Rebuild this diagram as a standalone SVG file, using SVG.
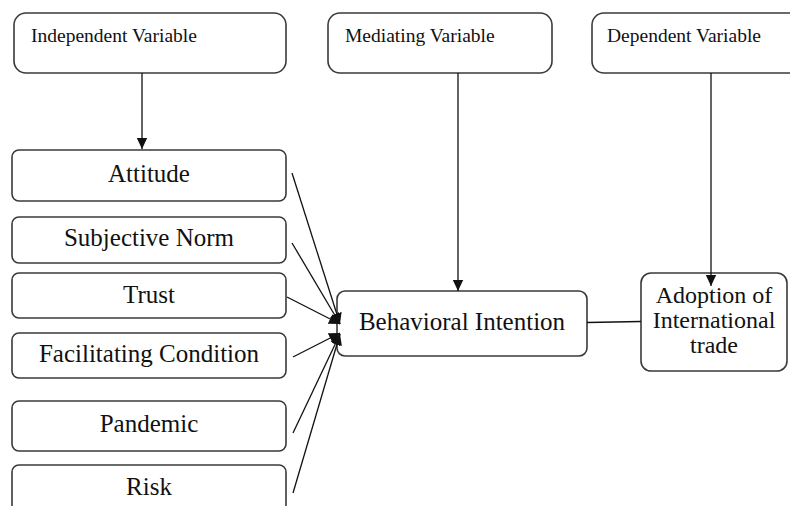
<svg xmlns="http://www.w3.org/2000/svg" width="790" height="506" viewBox="0 0 790 506">
  <style>
    .box { fill: #ffffff; stroke: #3a3a3a; stroke-width: 1.6; }
    .hdr { font-family: 'Liberation Serif', 'DejaVu Serif', 'Noto Serif', serif; font-size: 19.5px; fill: #111; }
    .lbl { font-family: 'Liberation Serif', 'DejaVu Serif', 'Noto Serif', serif; font-size: 25px; fill: #111; text-anchor: middle; }
    .ln { stroke: #111; stroke-width: 1.3; fill: none; }
  </style>
  <defs>
    <marker id="arrow" markerUnits="userSpaceOnUse" markerWidth="12" markerHeight="12" viewBox="0 0 12 12" refX="11" refY="6" orient="auto">
      <path d="M0,0.8 L11,6 L0,11.2 Z" fill="#111"/>
    </marker>
  </defs>
  <rect width="790" height="506" fill="#ffffff"/>

  <!-- header boxes -->
  <g id="independent-variable">
    <rect class="box" x="14" y="13" width="272" height="60" rx="12"/>
    <text class="hdr" x="31" y="42">Independent Variable</text>
  </g>
  <g id="mediating-variable">
    <rect class="box" x="328" y="13" width="224" height="60" rx="12"/>
    <text class="hdr" x="345" y="42">Mediating Variable</text>
  </g>
  <g id="dependent-variable">
    <rect class="box" x="592" y="13" width="220" height="60" rx="12"/>
    <text class="hdr" x="607" y="42">Dependent Variable</text>
  </g>

  <!-- factor boxes -->
  <g id="attitude">
    <rect class="box" x="12" y="150" width="274" height="51" rx="7"/>
    <text class="lbl" x="149" y="182">Attitude</text>
  </g>
  <g id="subjective-norm">
    <rect class="box" x="12" y="217" width="274" height="46" rx="7"/>
    <text class="lbl" x="149" y="246">Subjective Norm</text>
  </g>
  <g id="trust">
    <rect class="box" x="12" y="273" width="274" height="45" rx="7"/>
    <text class="lbl" x="149" y="303">Trust</text>
  </g>
  <g id="facilitating-condition">
    <rect class="box" x="12" y="333" width="274" height="45" rx="7"/>
    <text class="lbl" x="149" y="362">Facilitating Condition</text>
  </g>
  <g id="pandemic">
    <rect class="box" x="12" y="401" width="274" height="50" rx="7"/>
    <text class="lbl" x="149" y="432">Pandemic</text>
  </g>
  <g id="risk">
    <rect class="box" x="12" y="465" width="274" height="60" rx="7"/>
    <text class="lbl" x="149" y="495">Risk</text>
  </g>

  <!-- mediator and outcome -->
  <g id="behavioral-intention">
    <rect class="box" x="337" y="291" width="250" height="65" rx="8"/>
    <text class="lbl" x="462" y="330">Behavioral Intention</text>
  </g>
  <g id="adoption">
    <rect class="box" x="641" y="273" width="146" height="98" rx="10"/>
    <text class="lbl" x="714" y="303" style="font-size:24px">Adoption of</text>
    <text class="lbl" x="714" y="328" style="font-size:24px">International</text>
    <text class="lbl" x="714" y="353" style="font-size:24px">trade</text>
  </g>

  <!-- connectors -->
  <g id="connectors">
    <line class="ln" x1="142" y1="73" x2="142" y2="149" marker-end="url(#arrow)"/>
    <line class="ln" x1="458" y1="73" x2="458" y2="291" marker-end="url(#arrow)"/>
    <line class="ln" x1="711" y1="73" x2="711" y2="286" marker-end="url(#arrow)"/>
    <line class="ln" x1="587" y1="322.5" x2="641" y2="321.5" stroke-width="1.6"/>

    <line class="ln" x1="292" y1="173" x2="340" y2="324" marker-end="url(#arrow)"/>
    <line class="ln" x1="292" y1="243" x2="340" y2="324" marker-end="url(#arrow)"/>
    <line class="ln" x1="287" y1="297" x2="340" y2="324" stroke-width="2" marker-end="url(#arrow)"/>
    <line class="ln" x1="293" y1="357" x2="340" y2="333" marker-end="url(#arrow)"/>
    <line class="ln" x1="293" y1="433" x2="340" y2="334" marker-end="url(#arrow)"/>
    <line class="ln" x1="293" y1="493" x2="340" y2="334" marker-end="url(#arrow)"/>
  </g>
</svg>
